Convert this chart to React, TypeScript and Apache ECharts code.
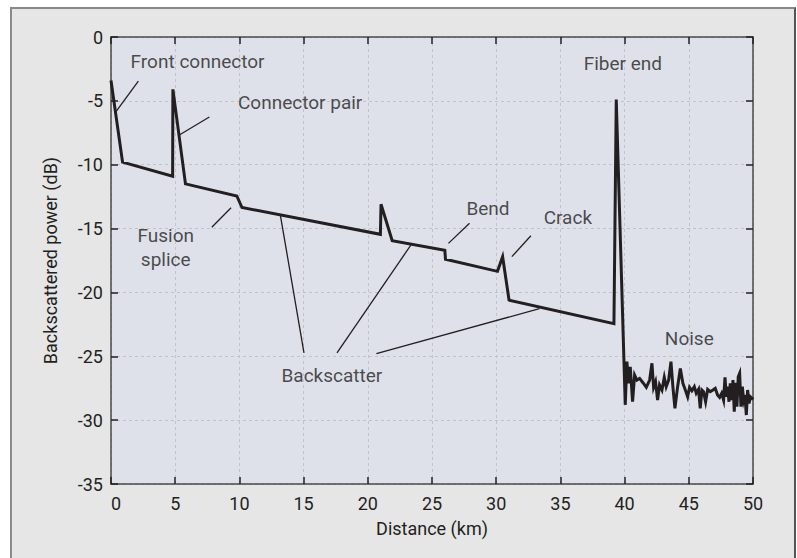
import React, { useEffect, useRef } from 'react';
import * as echarts from 'echarts';

// Main OTDR trace (distance km, backscattered power dB)
const traceKm = [0, 0.9, 4.8, 4.82, 5.8, 9.8, 10.2, 20.98, 21.03, 21.9, 26.0, 26.05, 30.1, 30.5, 31.0, 39.17, 39.35, 40.05];
const traceDb = [-3.4, -9.8, -10.9, -4.1, -11.5, -12.45, -13.35, -15.45, -13.1, -15.95, -16.7, -17.4, -18.35, -17.2, -20.6, -22.45, -4.9, -28.8];

// Noise floor after the fiber end
const noiseKm = [40.18, 40.31, 40.44, 40.62, 40.78, 40.96, 41.17, 41.43, 41.69, 41.95, 42.13, 42.26, 42.41, 42.57, 42.72, 42.91, 43.09, 43.24, 43.43, 43.61, 43.76, 43.92, 44.13, 44.34, 44.54, 44.73, 44.91, 45.06, 45.24, 45.43, 45.58, 45.76, 45.89, 46.02, 46.15, 46.31, 46.47, 46.67, 46.88, 47.06, 47.24, 47.4, 47.56, 47.71, 47.82, 47.92, 48.02, 48.13, 48.23, 48.34, 48.44, 48.54, 48.65, 48.75, 48.85, 48.96, 49.06, 49.17, 49.27, 49.37, 49.48, 49.58, 49.69, 49.79, 49.92, 50];
const noiseDb = [-25.42, -27.12, -25.82, -28.56, -26.47, -26.86, -26.73, -27.07, -27.43, -26.86, -25.55, -27.43, -26.99, -28.43, -27.25, -27.64, -26.65, -27.38, -26.86, -25.42, -27.38, -29.08, -27.38, -25.95, -27.12, -27.64, -28.17, -27.43, -27.7, -27.38, -27.9, -27.59, -29.08, -27.64, -27.77, -28.56, -27.59, -27.77, -27.64, -27.51, -28.03, -28.22, -27.9, -28.43, -26.65, -28.17, -27.38, -28.56, -27.12, -28.43, -26.86, -29.34, -27.07, -28.95, -26.6, -26.33, -28.95, -27.38, -28.43, -28.03, -29.6, -27.64, -28.69, -28.17, -28.3, -28.2];

// Annotation labels (centre positions in data coordinates)
const annotationTexts = ['Front connector', 'Connector pair', 'Fusion', 'splice', 'Bend', 'Crack', 'Fiber end', 'Noise', 'Backscatter'];
const annotationKm = [6.74, 14.73, 4.26, 4.26, 29.36, 35.58, 39.86, 45.04, 17.2];
const annotationDb = [-1.9, -5.15, -15.55, -17.4, -13.4, -14.16, -2.08, -23.6, -26.47];

// Leader lines: [fromKm, fromDb, toKm, toDb]
const leaderLines = [
  [2.13, -3.45, 0.39, -5.85],
  [7.66, -6.26, 5.32, -7.67],
  [7.85, -14.9, 9.35, -13.37],
  [27.92, -14.59, 26.28, -16.16],
  [32.7, -15.56, 31.22, -17.2],
  [13.2, -14.0, 15.03, -24.74],
  [23.43, -16.18, 17.6, -24.74],
  [33.37, -21.27, 20.67, -24.8],
];

const INK = '#231f20';
const FONT = 'Roboto';

export default function App() {
  const ref = useRef<HTMLDivElement>(null);

  useEffect(() => {
    if (!ref.current) return;
    const chart = echarts.init(ref.current, undefined, { renderer: 'svg' });

    const traceData = traceKm.map((k, i) => [k, traceDb[i]]).concat(noiseKm.map((k, i) => [k, noiseDb[i]]));

    const axisLine = { show: true, onZero: false, lineStyle: { color: '#4a4a4a', width: 1.5 } };
    const axisTick = { show: true, inside: true, length: 7, lineStyle: { color: INK, width: 1.5 } };
    const splitLine = { show: true, lineStyle: { color: '#c2c3c8', type: [3, 3], width: 1 } };

    const leaderSeries = leaderLines.map((l) => ({
      type: 'line',
      data: [[l[0], l[1]], [l[2], l[3]]],
      symbol: 'none',
      silent: true,
      lineStyle: { color: INK, width: 1.3 },
      z: 3,
    }));

    chart.setOption({
      animation: false,
      grid: { left: 111, top: 37, right: 44, bottom: 74, show: true, backgroundColor: '#dfe1ea', borderWidth: 0 },
      xAxis: [
        {
          type: 'value', min: 0, max: 50, interval: 5, position: 'bottom',
          name: 'Distance (km)', nameLocation: 'middle', nameGap: 35,
          nameTextStyle: { fontFamily: FONT, fontSize: 18, color: INK },
          axisLine, axisTick,
          axisLabel: { fontFamily: FONT, fontSize: 18, color: INK, margin: 10, alignMinLabel: 'left' },
          splitLine,
        },
        {
          type: 'value', min: 0, max: 50, interval: 5, position: 'top',
          axisLine, axisTick, axisLabel: { show: false }, splitLine: { show: false },
        },
      ],
      yAxis: [
        {
          type: 'value', min: -35, max: 0, interval: 5, position: 'left',
          name: 'Backscattered power (dB)', nameLocation: 'middle', nameGap: 52, nameRotate: 90,
          nameTextStyle: { fontFamily: FONT, fontSize: 18, color: INK },
          axisLine, axisTick,
          axisLabel: { fontFamily: FONT, fontSize: 18, color: INK, margin: 8 },
          splitLine,
        },
        {
          type: 'value', min: -35, max: 0, interval: 5, position: 'right',
          axisLine, axisTick, axisLabel: { show: false }, splitLine: { show: false },
        },
      ],
      series: [
        {
          type: 'line',
          data: traceData,
          symbol: 'none',
          silent: true,
          lineStyle: { color: INK, width: 3, join: 'miter', miterLimit: 6 },
          z: 4,
        },
        ...leaderSeries,
        {
          type: 'scatter',
          silent: true,
          symbolSize: 1,
          itemStyle: { color: 'rgba(0,0,0,0)' },
          data: annotationTexts.map((t, i) => ({ name: t, value: [annotationKm[i], annotationDb[i]] })),
          label: {
            show: true, position: 'inside', formatter: '{b}',
            fontFamily: FONT, fontSize: 19, color: INK,
            align: 'center', verticalAlign: 'middle',
          },
          z: 5,
        },
      ],
    });

    return () => chart.dispose();
  }, []);

  return (
    <div style={{ position: 'absolute', left: 0, top: 0, width: 797, height: 558, background: '#fff', overflow: 'hidden' }}>
      <div style={{
        position: 'absolute', left: 10, top: 7, width: 786, height: 600, boxSizing: 'border-box',
        background: '#e6e6e6', borderTop: '2px solid #8a8a8a', borderLeft: '2px solid #8a8a8a', borderRight: '2px solid #555',
      }} />
      <div ref={ref} style={{ position: 'absolute', left: 0, top: 0, width: 797, height: 558 }} />
    </div>
  );
}
